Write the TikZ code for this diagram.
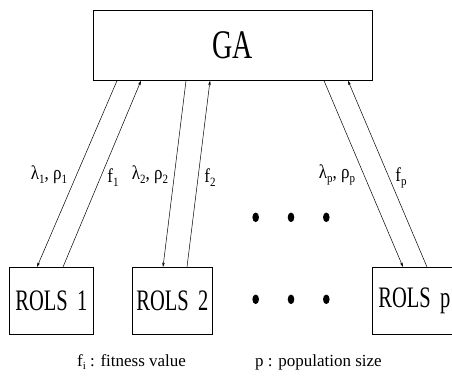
\documentclass[tikz,border=0pt]{standalone}
\usepackage{fontspec}
\usepackage{graphicx}
\setmainfont{Liberation Serif}
\usetikzlibrary{arrows.meta,shapes.geometric}
\newcommand{\talltext}[2][1.45]{\scalebox{1}[#1]{#2}}
\newcommand{\lsub}[1]{\raisebox{-0.45ex}{\fontsize{11}{11}\selectfont #1}}
\begin{document}
\begin{tikzpicture}[x=1pt,y=-1pt,
  box/.style={draw, line width=0.7pt, inner sep=0pt, anchor=north west},
  link/.style={line width=0.5pt, -{Stealth[length=4.5pt,width=2.6pt]}},
  lab/.style={font=\fontsize{17}{17}\selectfont, inner sep=0pt},
  legend/.style={font=\fontsize{17}{17}\selectfont, inner sep=0pt, anchor=base west},
  dotnode/.style={ellipse, fill, inner sep=0pt, minimum width=6.6pt, minimum height=9.6pt}]
\useasboundingbox (0,0) rectangle (452,383);
\clip (0,0) rectangle (452,383);
% boxes
\node[box, minimum width=279pt, minimum height=70pt] (GA) at (93,10)
  {\fontsize{28}{28}\selectfont\talltext{GA}};
\node[box, minimum width=84pt, minimum height=67pt] (R1) at (9,267)
  {\fontsize{20.5}{20.5}\selectfont\talltext{ROLS\hspace{0.45em}1}};
\node[box, minimum width=80pt, minimum height=67pt] (R2) at (132,267)
  {\fontsize{20.5}{20.5}\selectfont\talltext{ROLS\hspace{0.45em}2}};
\node[box, minimum width=84pt, minimum height=67pt] (Rp) at (372,267)
  {\fontsize{20.5}{20.5}\selectfont\talltext{ROLS\hspace{0.45em}p}};
% connectors
\draw[link] ([xshift=24pt]GA.south west) -- ([xshift=28pt]R1.north west);
\draw[link] ([xshift=54pt]R1.north west) -- ([xshift=48pt]GA.south west);
\draw[link] ([xshift=93pt]GA.south west) -- ([xshift=31pt]R2.north west);
\draw[link] ([xshift=55pt]R2.north west) -- ([xshift=117pt]GA.south west);
\draw[link] ([xshift=231pt]GA.south west) -- ([xshift=31pt]Rp.north west);
\draw[link] ([xshift=55pt]Rp.north west) -- ([xshift=255pt]GA.south west);
% labels
\node[lab] (l1) at (49,175) {\talltext[1.15]{λ\lsub{1}, ρ\lsub{1}}};
\node[lab] (f1) at (113,178) {\talltext[1.15]{f\lsub{1}}};
\node[lab] (l2) at (150,175) {\talltext[1.15]{λ\lsub{2}, ρ\lsub{2}}};
\node[lab] (f2) at (210,178) {\talltext[1.15]{f\lsub{2}}};
\node[lab] (lp) at (337,175) {\talltext[1.15]{λ\lsub{p}, ρ\lsub{p}}};
\node[lab] (fp) at (401,178) {\talltext[1.15]{f\lsub{p}}};
% dots
\node[dotnode] (d1) at (255.7,217.3) {};
\node[dotnode] (d2) at (291,217.3) {};
\node[dotnode] (d3) at (326.3,217.3) {};
\node[dotnode] (d4) at (255.7,299.3) {};
\node[dotnode] (d5) at (291,299.3) {};
\node[dotnode] (d6) at (326.3,299.3) {};
% legend
\node[legend] (leg1) at (77,366) {f\lsub{i} : fitness value};
\node[legend] (leg2) at (255,366) {p : population size};
\end{tikzpicture}
\end{document}
